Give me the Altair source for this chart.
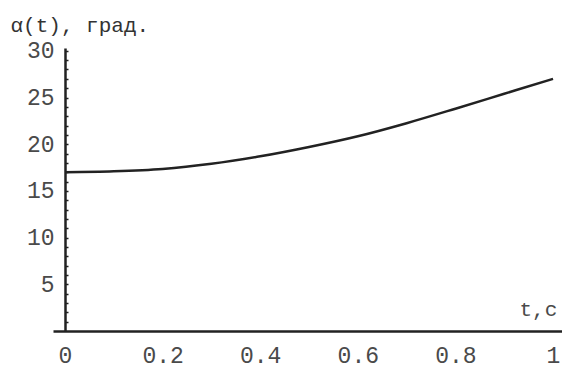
import altair as alt
import pandas as pd

# data
t_values = [0.0, 0.1, 0.2, 0.3, 0.4, 0.5, 0.6, 0.7, 0.8, 0.9, 1.0]
alpha_values = [17.0, 17.1, 17.35, 17.9, 18.7, 19.7, 20.85, 22.25, 23.8, 25.4, 27.0]
x_tick_values = [0, 0.2, 0.4, 0.6, 0.8, 1.0]
y_label_values = [5, 10, 15, 20, 25, 30]
y_minor_values = list(range(1, 31))

df = pd.DataFrame({"t": t_values, "alpha": alpha_values})

W = 509
H = 283
INK = "#222222"
LABEL = "#4a4a4a"
MONO = "Liberation Mono"

x_scale = alt.Scale(domain=[-0.0246, 1.0184], nice=False, zero=False)
y_scale = alt.Scale(domain=[0, 30.3], nice=False, zero=False)

x_axis = alt.Axis(
    values=x_tick_values, format=".1~f", tickSize=0, grid=False,
    domainColor=INK, domainWidth=2.5,
    labelFont=MONO, labelFontSize=23, labelColor=LABEL, labelPadding=13,
    labelFlush=False,
    title="t,c", titleFont=MONO, titleFontSize=21, titleFontWeight="normal",
    titleColor=LABEL, titleX=466, titleY=-16, titleAlign="left",
    titleBaseline="alphabetic",
)

y_axis = alt.Axis(
    values=y_label_values, offset=-12, tickSize=0, grid=False,
    domainColor=INK, domainWidth=2.5,
    labelFont=MONO, labelFontSize=23, labelColor=LABEL, labelPadding=11,
    title="α(t), град.", titleFont=MONO, titleFontSize=21,
    titleFontWeight="normal", titleColor="#333333", titleAngle=0,
    titleX=-55, titleY=-17, titleAlign="left", titleBaseline="alphabetic",
)

y_tick_axis = alt.Axis(
    orient="right", offset=-(W - 12), values=y_minor_values, tickSize=3,
    tickWidth=1.5, tickColor=INK, labels=False, domain=False, grid=False,
    title=None,
)

line = alt.Chart(df).mark_line(
    color=INK, strokeWidth=2.5, interpolate="monotone"
).encode(
    x=alt.X("t:Q", scale=x_scale, axis=x_axis),
    y=alt.Y("alpha:Q", scale=y_scale, axis=y_axis),
)

ticks = alt.Chart(df).mark_line(opacity=0).encode(
    x=alt.X("t:Q", scale=x_scale, axis=x_axis),
    y=alt.Y("alpha:Q", scale=y_scale, axis=y_tick_axis),
)

chart = alt.layer(line, ticks).resolve_axis(y="independent").properties(
    width=W,
    height=H,
    autosize=alt.AutoSizeParams(type="none"),
    padding={"left": 45, "top": 40, "right": 0, "bottom": 37},
    background="white",
).configure_view(stroke=None)

chart.save("out.html", embed_options={"renderer": "svg", "actions": False})
